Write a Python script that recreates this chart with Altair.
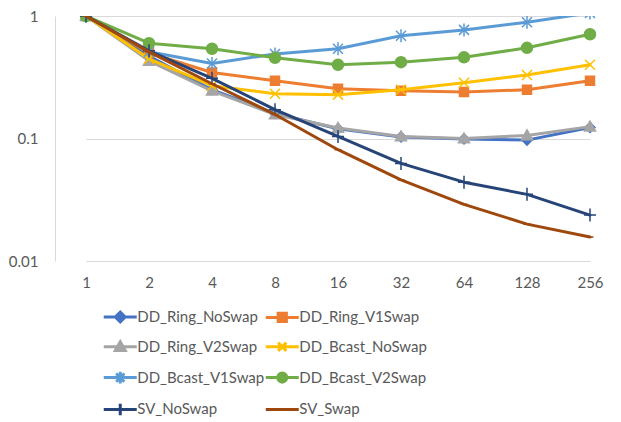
import altair as alt
import pandas as pd

x_labels = ["1", "2", "4", "8", "16", "32", "64", "128", "256"]

series_names = [
    "DD_Ring_NoSwap", "DD_Ring_V1Swap", "DD_Ring_V2Swap", "DD_Bcast_NoSwap",
    "DD_Bcast_V1Swap", "DD_Bcast_V2Swap", "SV_NoSwap", "SV_Swap",
]
series_colors = ["#4472C4", "#ED7D31", "#A5A5A5", "#FFC000",
                 "#5B9BD5", "#70AD47", "#264478", "#9E480E"]

dd_ring_noswap = [1, 0.47, 0.25, 0.16, 0.12, 0.103, 0.099, 0.097, 0.123]
dd_ring_v1swap = [1, 0.50, 0.346, 0.296, 0.255, 0.245, 0.24, 0.25, 0.296]
dd_ring_v2swap = [1, 0.43, 0.245, 0.157, 0.122, 0.104, 0.10, 0.106, 0.125]
dd_bcast_noswap = [1, 0.447, 0.27, 0.232, 0.228, 0.25, 0.285, 0.33, 0.40]
dd_bcast_v1swap = [1, 0.51, 0.41, 0.49, 0.54, 0.69, 0.77, 0.89, 1.06]
dd_bcast_v2swap = [1, 0.60, 0.54, 0.456, 0.40, 0.42, 0.46, 0.55, 0.71]
sv_noswap = [1, 0.52, 0.31, 0.172, 0.104, 0.0626, 0.044, 0.035, 0.0237]
sv_swap = [1, 0.51, 0.28, 0.157, 0.081, 0.046, 0.029, 0.020, 0.0157]

series_values = [dd_ring_noswap, dd_ring_v1swap, dd_ring_v2swap, dd_bcast_noswap,
                 dd_bcast_v1swap, dd_bcast_v2swap, sv_noswap, sv_swap]

# marker shapes for plot points (unit = sqrt(size)/2 px)
point_shapes = [
    "M0,-1L1,0L0,1L-1,0Z",
    "M-0.9,-0.9H0.9V0.9H-0.9Z",
    "M0,-1.1L1.1,0.85L-1.1,0.85Z",
    "M-1,-1L1,1M-1,1L1,-1",
    "M-1,-1L1,1M-1,1L1,-1M0,-1.3V1.3",
    "M-1.1,0A1.1 1.1 0 1 0 1.1,0A1.1 1.1 0 1 0 -1.1,0Z",
    "M-1.2,0H1.2M0,-1.3V1.3",
    "M-0.7,0H0.7",
]
# legend symbols: line plus marker
legend_shapes = [
    "M-2,0H2M0,-0.6L0.6,0L0,0.6L-0.6,0Z",
    "M-2,0H2M-0.5,-0.5H0.5V0.5H-0.5Z",
    "M-2,0H2M0,-0.6L0.6,0.45L-0.6,0.45Z",
    "M-2,0H2M-0.5,-0.5L0.5,0.5M-0.5,0.5L0.5,-0.5",
    "M-2,0H2M-0.5,-0.5L0.5,0.5M-0.5,0.5L0.5,-0.5M0,-0.7V0.7",
    "M-2,0H2M-0.55,0A0.55 0.55 0 1 0 0.55,0A0.55 0.55 0 1 0 -0.55,0Z",
    "M-2,0H2M0,-0.7V0.7",
    "M-2,0H2",
]

rows = []
for name, vals in zip(series_names, series_values):
    for xl, v in zip(x_labels, vals):
        rows.append({"x": xl, "y": v, "series": name})
df = pd.DataFrame(rows)

FONT = "Lato"
GRID = "#D9D9D9"
TXT = "#595959"


def lookup_expr(values, default):
    expr = f"'{default}'"
    for n, v in reversed(list(zip(series_names, values))):
        expr = f"datum.value === '{n}' ? '{v}' : ({expr})"
    return expr


legend = alt.Legend(
    title=None,
    orient="none",
    direction="horizontal",
    legendX=55.25,
    legendY=291,
    columns=2,
    symbolSize=272.25,
    symbolStrokeWidth=3,
    symbolType={"expr": lookup_expr(legend_shapes, "M-2,0H2")},
    symbolFillColor={"expr": lookup_expr(series_colors, "#000000")},
    symbolStrokeColor={"expr": lookup_expr(series_colors, "#000000")},
    symbolOpacity=1,
    labelOffset=7,
    rowPadding=7.8,
    columnPadding=-5,
    labelFont=FONT,
    labelFontSize=15,
    labelColor=TXT,
    padding=0,
)

x_enc = alt.X(
    "x:O",
    sort=x_labels,
    scale=alt.Scale(type="point", range=[31, 535], padding=0),
    axis=alt.Axis(title=None, labelAngle=0, ticks=False, domain=False, grid=False,
                  labelFont=FONT, labelFontSize=15, labelColor=TXT, labelPadding=14),
)
y_enc = alt.Y(
    "y:Q",
    scale=alt.Scale(type="log", domain=[0.01, 1], nice=False),
    axis=alt.Axis(title=None, values=[0.01, 0.1, 1], format="~g", ticks=False,
                  domain=True, domainColor=GRID, grid=True, gridColor=GRID,
                  labelFont=FONT, labelFontSize=15, labelColor=TXT, labelPadding=17),
)

base = alt.Chart(df)
layers = []
for name, color, shp in zip(series_names, series_colors, point_shapes):
    sub = base.transform_filter(alt.datum.series == name)
    line = sub.mark_line(strokeWidth=3, strokeCap="round", strokeJoin="round", clip=True).encode(
        x=x_enc,
        y=y_enc,
        color=alt.Color("series:N",
                        scale=alt.Scale(domain=series_names, range=series_colors),
                        legend=legend),
    )
    pts = sub.mark_point(shape=shp, size=100, filled=True, fill=color, stroke=color,
                         strokeWidth=1.5, opacity=1, clip=True).encode(x=x_enc, y=y_enc)
    layers += [line, pts]

chart = alt.layer(*layers).properties(
    width=558,
    height=245,
    autosize=alt.AutoSizeParams(type="none"),
    padding={"left": 47, "top": 8, "right": 0, "bottom": 158},
    background="white",
).configure_view(stroke=None)

chart.save("out.html", embed_options={"renderer": "svg", "actions": False})
